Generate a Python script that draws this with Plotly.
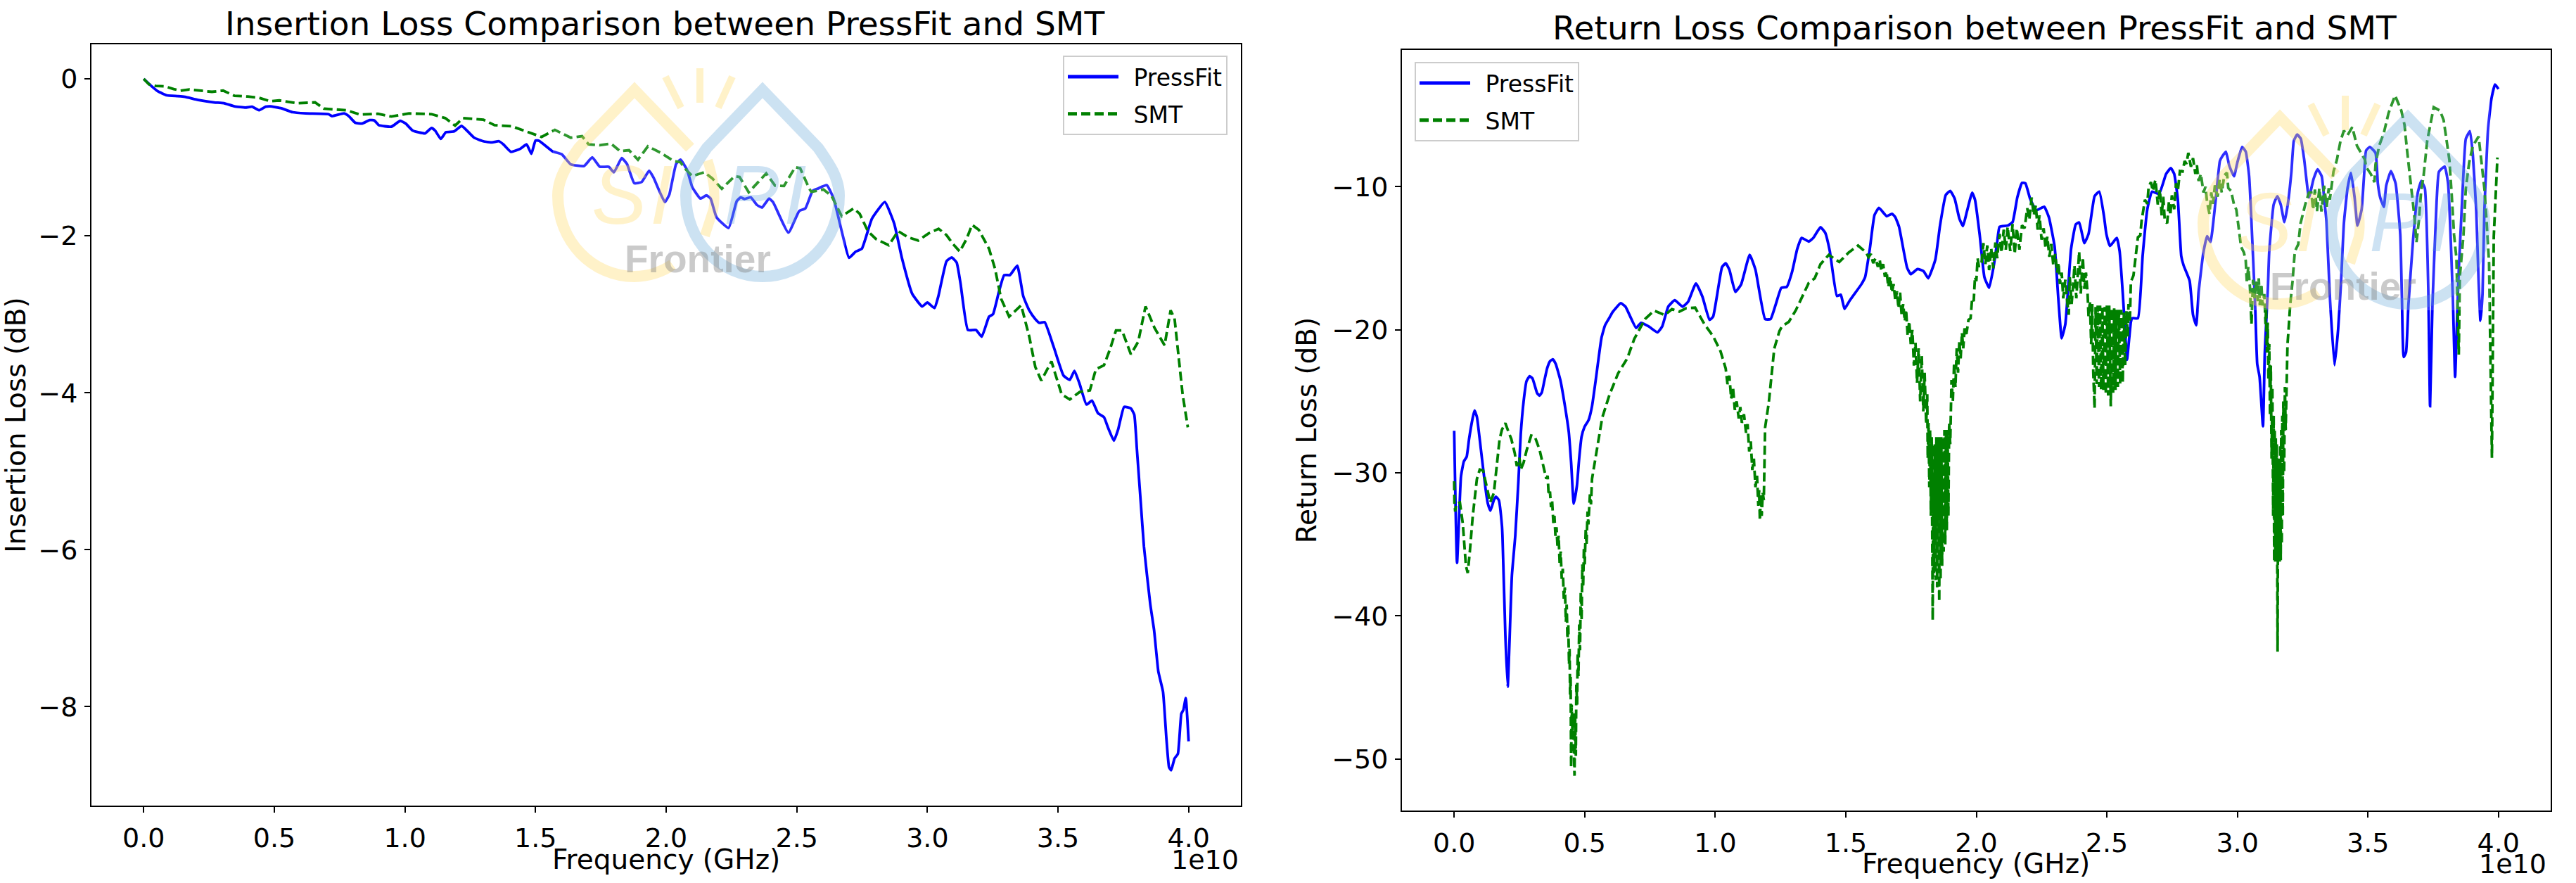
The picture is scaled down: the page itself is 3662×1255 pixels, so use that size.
import plotly.graph_objects as go

W, H = 3662, 1255

# ---------- data: (frequency in GHz, dB) ----------
il_pressfit = [(0,0),(.29,-.09),(.55,-.16),(.89,-.21),(1.32,-.22),(1.58,-.23),(2.09,-.27),(2.7,-.30),(3.07,-.31),(3.47,-.35),(3.9,-.365),(4.15,-.355),(4.41,-.40),(4.67,-.355),(4.84,-.35),(5.27,-.375),(5.7,-.425),(6.2,-.44),(7.07,-.45),(7.21,-.475),(7.67,-.44),(7.85,-.475),(8.1,-.56),(8.36,-.57),(8.65,-.525),(8.83,-.53),(9.0,-.59),(9.48,-.61),(9.82,-.535),(10.03,-.57),(10.3,-.66),(10.77,-.695),(11.02,-.625),(11.16,-.66),(11.37,-.765),(11.57,-.68),(11.88,-.67),(12.17,-.60),(12.48,-.695),(12.65,-.75),(13.0,-.795),(13.34,-.81),(13.6,-.795),(13.77,-.835),(14.06,-.93),(14.42,-.89),(14.66,-.835),(14.84,-.955),(15.0,-.785),(15.14,-.79),(15.66,-.925),(16.0,-.96),(16.35,-1.09),(16.86,-1.11),(17.17,-1.0),(17.46,-1.12),(17.8,-1.12),(18.0,-1.19),(18.3,-1.01),(18.5,-1.085),(18.78,-1.33),(19.06,-1.315),(19.35,-1.17),(19.52,-1.26),(19.95,-1.57),(20.12,-1.475),(20.38,-1.085),(20.55,-1.03),(20.8,-1.16),(21.0,-1.38),(21.31,-1.525),(21.54,-1.485),(21.7,-1.525),(21.93,-1.765),(22.39,-1.9),(22.7,-1.56),(22.85,-1.51),(23.0,-1.53),(23.24,-1.51),(23.47,-1.605),(23.67,-1.64),(23.94,-1.525),(24.09,-1.57),(24.68,-1.96),(25.09,-1.685),(25.33,-1.65),(25.6,-1.43),(25.79,-1.40),(26.15,-1.355),(26.41,-1.525),(26.72,-1.94),(27.0,-2.28),(27.26,-2.2),(27.49,-2.165),(27.88,-1.78),(28.37,-1.57),(28.73,-1.845),(29.03,-2.29),(29.42,-2.74),(29.8,-2.9),(30.0,-2.85),(30.27,-2.92),(30.42,-2.77),(30.73,-2.325),(30.93,-2.275),(31.12,-2.34),(31.27,-2.61),(31.55,-3.2),(31.86,-3.2),(32.08,-3.285),(32.36,-3.03),(32.51,-3.0),(32.74,-2.71),(32.94,-2.5),(33.16,-2.5),(33.44,-2.38),(33.67,-2.77),(33.9,-2.95),(34.13,-3.06),(34.29,-3.11),(34.49,-3.1),(34.83,-3.41),(35.21,-3.78),(35.45,-3.835),(35.63,-3.72),(35.83,-3.89),(36.09,-4.15),(36.3,-4.1),(36.53,-4.26),(36.76,-4.31),(36.91,-4.44),(37.14,-4.61),(37.3,-4.47),(37.53,-4.18),(37.79,-4.2),(37.92,-4.28),(38.02,-4.72),(38.17,-5.41),(38.29,-5.96),(38.53,-6.69),(38.68,-7.03),(38.84,-7.55),(39.02,-7.81),(39.15,-8.41),(39.25,-8.77),(39.33,-8.81),(39.46,-8.66),(39.59,-8.6),(39.72,-8.09),(39.8,-8.04),(39.89,-7.89),(40.0,-8.44)]

il_smt = [(0,0),(.2,-.07),(.46,-.09),(.81,-.095),(1.15,-.13),(1.41,-.15),(1.75,-.135),(2.09,-.145),(2.61,-.165),(3.04,-.15),(3.47,-.215),(3.98,-.225),(4.41,-.24),(4.84,-.285),(5.19,-.275),(5.87,-.31),(6.56,-.30),(6.9,-.38),(7.76,-.40),(8.28,-.455),(8.96,-.445),(9.48,-.48),(10.16,-.44),(11.02,-.45),(11.54,-.50),(11.92,-.595),(12.22,-.50),(13.0,-.52),(13.43,-.59),(14.1,-.605),(14.63,-.665),(15.23,-.74),(15.74,-.65),(16.35,-.75),(16.78,-.73),(17.03,-.835),(17.46,-.845),(17.89,-.825),(18.23,-.92),(18.58,-.91),(18.92,-1.03),(19.3,-.86),(19.78,-.94),(20.3,-1.05),(20.54,-1.06),(20.77,-1.16),(21.0,-1.24),(21.46,-1.19),(21.77,-1.27),(22.13,-1.4),(22.62,-1.24),(22.81,-1.25),(23.16,-1.445),(23.83,-1.205),(24.17,-1.36),(24.51,-1.365),(24.94,-1.125),(25.13,-1.14),(25.48,-1.4),(25.56,-1.44),(26.02,-1.41),(26.33,-1.49),(26.72,-1.75),(27.18,-1.65),(27.41,-1.72),(27.72,-1.94),(28.03,-2.04),(28.52,-2.12),(28.88,-1.94),(29.27,-2.02),(29.65,-2.06),(30.04,-1.97),(30.43,-1.91),(30.73,-1.99),(30.97,-2.1),(31.24,-2.2),(31.5,-2.04),(31.71,-1.86),(31.97,-1.925),(32.36,-2.165),(32.59,-2.42),(32.82,-2.8),(33.13,-3.03),(33.59,-2.885),(33.9,-3.285),(34.13,-3.67),(34.36,-3.845),(34.75,-3.6),(34.9,-3.765),(35.14,-4.02),(35.45,-4.085),(35.83,-3.99),(36.22,-3.97),(36.45,-3.7),(36.76,-3.65),(36.99,-3.445),(37.22,-3.205),(37.45,-3.205),(37.79,-3.51),(38.07,-3.35),(38.35,-2.9),(38.69,-3.17),(39.08,-3.395),(39.31,-2.95),(39.46,-3.05),(39.62,-3.54),(39.77,-4.02),(39.97,-4.44)]

rl_pressfit = [(0,-27.06),(.11,-36.3),(.26,-30.26),(.37,-29.2),(.48,-28.87),(.57,-27.64),(.71,-26.16),(.78,-25.64),(.87,-26.08),(1.02,-28.3),(1.2,-31.08),(1.29,-32.15),(1.39,-32.64),(1.52,-31.9),(1.6,-31.66),(1.71,-31.9),(1.83,-33.7),(1.85,-34.4),(1.96,-41.3),(2.05,-44.95),(2.21,-37.2),(2.34,-34.4),(2.46,-30.6),(2.55,-27.3),(2.66,-25.0),(2.77,-23.6),(2.89,-23.24),(3.0,-23.4),(3.18,-24.44),(3.27,-24.6),(3.36,-24.36),(3.45,-23.6),(3.56,-22.7),(3.67,-22.2),(3.78,-22.06),(3.89,-22.39),(4.07,-23.54),(4.23,-25.18),(4.39,-27.15),(4.48,-29.28),(4.58,-32.15),(4.7,-30.92),(4.79,-28.95),(4.88,-27.47),(4.99,-26.8),(5.15,-26.3),(5.28,-25.34),(5.42,-23.54),(5.64,-20.59),(5.78,-19.68),(5.96,-19.11),(6.08,-18.73),(6.38,-18.14),(6.56,-18.38),(6.97,-19.87),(7.15,-19.52),(7.45,-19.76),(7.79,-20.18),(7.97,-19.76),(8.2,-18.38),(8.45,-17.93),(8.75,-18.38),(8.96,-18.04),(9.26,-16.76),(9.51,-17.69),(9.78,-19.31),(9.92,-19.07),(10.26,-15.62),(10.4,-15.35),(10.54,-15.8),(10.77,-17.35),(10.99,-16.83),(11.32,-14.76),(11.54,-15.8),(11.91,-19.25),(12.12,-19.25),(12.32,-18.21),(12.53,-17.07),(12.74,-17.0),(12.94,-15.97),(13.14,-14.35),(13.31,-13.57),(13.58,-13.83),(13.76,-13.57),(14.03,-12.83),(14.21,-13.21),(14.39,-14.52),(14.66,-17.63),(14.81,-17.55),(14.95,-18.54),(15.15,-17.96),(15.6,-16.81),(15.74,-16.32),(15.92,-14.35),(16.1,-11.98),(16.27,-11.48),(16.57,-12.06),(16.77,-11.89),(16.9,-12.14),(17.04,-12.8),(17.35,-15.67),(17.49,-16.11),(17.75,-15.75),(17.98,-15.91),(18.16,-16.4),(18.43,-15.09),(18.61,-12.71),(18.83,-10.58),(19.0,-10.29),(19.17,-10.83),(19.35,-12.22),(19.49,-12.75),(19.64,-11.73),(19.84,-10.42),(19.95,-10.91),(20.13,-13.37),(20.31,-16.32),(20.49,-17.06),(20.67,-15.5),(20.8,-13.86),(20.89,-12.8),(21.21,-12.71),(21.39,-12.47),(21.57,-10.75),(21.75,-9.73),(21.88,-9.76),(22.06,-10.83),(22.29,-11.65),(22.6,-11.4),(22.78,-12.14),(23.0,-14.19),(23.14,-17.8),(23.27,-20.59),(23.41,-19.6),(23.63,-14.35),(23.81,-12.63),(23.94,-12.5),(24.14,-13.94),(24.3,-13.29),(24.53,-10.66),(24.71,-10.34),(24.89,-12.06),(24.98,-13.29),(25.12,-14.14),(25.38,-13.58),(25.49,-14.52),(25.61,-17.47),(25.7,-20.1),(25.77,-22.1),(25.92,-19.46),(25.97,-19.19),(26.19,-19.19),(26.37,-14.85),(26.55,-11.57),(26.73,-10.34),(27.0,-10.5),(27.27,-9.1),(27.45,-8.7),(27.58,-9.1),(27.72,-10.91),(27.85,-14.85),(27.94,-15.5),(28.17,-16.57),(28.3,-18.95),(28.42,-19.68),(28.52,-17.3),(28.69,-14.68),(28.84,-13.45),(28.97,-13.86),(29.15,-11.24),(29.33,-8.2),(29.42,-7.88),(29.56,-7.55),(29.69,-8.53),(29.87,-9.27),(30.0,-8.29),(30.18,-7.22),(30.32,-7.55),(30.45,-9.27),(30.59,-14.52),(30.68,-18.29),(30.76,-22.39),(30.85,-23.29),(30.98,-26.74),(31.05,-21.57),(31.17,-17.0),(31.22,-14.52),(31.39,-11.24),(31.53,-10.66),(31.66,-11.24),(31.8,-12.47),(31.93,-11.24),(32.07,-8.94),(32.16,-6.81),(32.29,-6.35),(32.43,-6.65),(32.56,-8.12),(32.74,-10.75),(32.92,-9.44),(33.07,-8.78),(33.23,-9.27),(33.32,-10.75),(33.41,-12.39),(33.55,-17.96),(33.72,-22.47),(33.86,-19.93),(33.97,-16.65),(34.08,-12.55),(34.22,-10.1),(34.35,-9.03),(34.49,-10.75),(34.6,-12.72),(34.76,-11.57),(34.85,-9.27),(34.93,-7.47),(35.07,-7.22),(35.29,-7.63),(35.38,-9.77),(35.47,-10.75),(35.61,-11.41),(35.7,-9.93),(35.88,-8.91),(36.06,-9.77),(36.24,-13.37),(36.3,-17.64),(36.37,-21.9),(36.46,-21.57),(36.55,-18.29),(36.73,-13.7),(36.91,-10.42),(37.04,-9.6),(37.18,-10.1),(37.31,-17.0),(37.38,-25.34),(37.47,-18.29),(37.63,-11.08),(37.72,-8.95),(37.94,-8.58),(38.07,-9.77),(38.25,-17.6),(38.34,-23.29),(38.43,-18.29),(38.48,-15.83),(38.61,-10.9),(38.75,-6.65),(38.91,-6.12),(39.02,-7.8),(39.15,-11.73),(39.24,-16.65),(39.31,-19.36),(39.39,-17.47),(39.46,-11.73),(39.6,-5.99),(39.73,-3.86),(39.87,-2.85),(40.0,-3.17)]

rl_smt = [(0,-30.59),(.01,-32.07),(.04,-32.7),(.08,-32.15),(.22,-32.07),(.33,-33.54),(.45,-36.5),(.52,-37.0),(.6,-35.5),(.71,-33.05),(.87,-30.43),(.98,-29.77),(1.11,-29.85),(1.25,-31.08),(1.38,-32.07),(1.52,-31.41),(1.65,-29.28),(1.74,-27.64),(1.83,-26.98),(1.96,-26.52),(2.05,-26.98),(2.19,-27.64),(2.32,-28.62),(2.4,-29.52),(2.5,-28.95),(2.55,-29.77),(2.66,-29.28),(2.77,-28.46),(2.95,-27.39),(3.09,-27.47),(3.27,-28.38),(3.4,-29.44),
(3.53,-30.42),(3.58,-30.2),(3.62,-31.57),(3.67,-31.3),(3.71,-32.4),(3.75,-31.9),(3.8,-33.5),(3.84,-33),(3.88,-34.4),(3.92,-33.8),(3.96,-35.2),(4.0,-34.4),(4.04,-36.3),(4.08,-35.5),(4.12,-37.4),(4.16,-36.7),(4.2,-38.8),(4.24,-38),(4.28,-40.4),(4.31,-39.2),(4.34,-41.6),(4.37,-40.6),(4.4,-43.4),(4.42,-42.3),(4.44,-45.5),(4.46,-44.2),(4.48,-50.59),(4.5,-46.2),(4.53,-48),(4.55,-46.8),(4.58,-48.8),(4.61,-51.17),(4.63,-46.8),(4.66,-49.77),(4.68,-44.8),(4.71,-46.2),(4.73,-42.6),(4.76,-44.2),(4.79,-40.6),(4.82,-42.4),(4.85,-38.3),(4.88,-40.3),(4.91,-36.4),(4.94,-38),(4.97,-35.2),(5.0,-36.4),(5.04,-33.9),(5.07,-35),(5.11,-32.7),(5.14,-33.6),(5.2,-31.5),(5.24,-32.2),(5.28,-30.42),
(5.39,-29.25),(5.67,-26.15),(5.94,-24.59),(6.28,-23.04),(6.63,-22.0),(6.9,-20.63),(7.31,-19.25),(7.66,-18.66),(8.07,-18.97),(8.34,-18.56),(8.62,-18.73),(8.89,-18.49),(9.23,-18.45),(9.58,-19.59),(9.92,-20.45),(10.2,-21.49),
(10.4,-22.7),(10.47,-23.8),(10.54,-23.2),(10.61,-24.8),(10.68,-24),(10.75,-25.6),(10.82,-25),(10.9,-26.2),(10.96,-25.4),(11.02,-26.5),(11.1,-25.9),(11.18,-27.2),(11.24,-26.6),(11.3,-28.5),(11.36,-27.8),(11.42,-29.8),(11.48,-29),(11.54,-31),(11.6,-30.2),(11.65,-32.3),(11.68,-31.2),(11.71,-33.32),(11.75,-31.5),(11.78,-33),(11.82,-31.4),(11.86,-31.9),(11.91,-26.84),
(12.05,-25.11),(12.26,-21.32),(12.46,-20.09),(12.55,-19.77),(12.82,-19.44),(13.09,-18.62),(13.36,-17.63),(13.58,-16.73),(13.81,-16.4),(14.03,-15.42),(14.35,-14.76),(14.75,-15.26),(15.11,-14.6),(15.47,-14.11),(15.78,-14.6),(15.87,-14.93),(15.96,-14.7),(16.05,-15.34),(16.14,-15),(16.23,-15.6),(16.3,-15.1),(16.36,-15.9),(16.43,-15.4),(16.5,-16.3),(16.56,-15.9),(16.63,-17),(16.7,-16.3),(16.77,-17.4),(16.83,-16.8),(16.9,-18),(16.96,-17.3),(17.02,-18.5),(17.08,-17.4),(17.14,-19),(17.2,-18.2),(17.26,-19.4),(17.31,-18.6),(17.37,-20.4),(17.43,-19.4),(17.49,-21),(17.55,-20),(17.61,-22.5),(17.67,-20.9),(17.73,-23.7),(17.79,-21.3),(17.85,-25),(17.91,-21.8),(17.97,-25.7),(18.02,-23),(18.08,-26.6),(18.12,-24.5),
(18.14,-29),(18.17,-26.5),(18.2,-31),(18.23,-27),(18.26,-33),(18.29,-27.5),(18.31,-36),(18.33,-40.3),(18.35,-28),(18.38,-37),(18.41,-28),(18.44,-37.5),(18.47,-27.5),(18.5,-38),(18.53,-27.5),(18.56,-38.5),(18.58,-39),(18.6,-27.5),(18.63,-37.5),(18.66,-27.5),(18.69,-36.5),(18.72,-27.5),(18.75,-35.5),(18.78,-27),(18.81,-35),(18.84,-27),(18.87,-34),(18.9,-27),(18.93,-33),(18.96,-26.5),(19.0,-28),
(19.05,-23.5),(19.1,-25),(19.15,-22.3),(19.2,-24),(19.25,-21.3),(19.3,-23),(19.35,-20.8),(19.4,-22),(19.45,-20.2),(19.5,-21.3),(19.55,-19.9),(19.62,-20.3),(19.7,-19.3),(19.78,-19.2),(19.84,-17.8),(19.9,-18),(19.95,-16.3),(20.0,-16.6),(20.05,-15),(20.1,-15.6),(20.2,-15.3),(20.27,-13.94),(20.35,-15.4),(20.42,-14.1),(20.49,-15.83),(20.57,-14.3),(20.65,-15.7),(20.73,-13.9),(20.8,-15),(20.89,-13.3),(20.97,-14.6),(21.05,-13),(21.13,-14.4),(21.2,-12.8),(21.3,-14.5),(21.39,-12.6),(21.47,-14.7),(21.55,-12.9),(21.65,-14.4),(21.75,-12.7),(21.85,-12.9),(21.95,-11.5),(22.03,-12.3),(22.12,-10.75),(22.2,-12),(22.28,-11.3),(22.35,-13),(22.42,-12),(22.5,-13.7),(22.58,-12.9),(22.65,-14.3),(22.72,-13.5),(22.8,-14.9),(22.87,-14),(22.95,-15.5),(23.02,-14.7),(23.1,-16),(23.15,-15.3),(23.2,-16.8),(23.27,-16),(23.33,-17.8),(23.41,-16.5),(23.48,-18),(23.54,-18.95),(23.58,-16.32),(23.65,-18.2),(23.72,-16.6),(23.76,-15.5),(23.83,-17.8),(23.9,-15.4),(23.94,-14.52),(24.0,-17.47),(24.08,-14.93),(24.14,-17.14),(24.2,-16),(24.26,-17.4),(24.3,-19.1),
(24.35,-18),(24.4,-21),(24.44,-18.2),(24.48,-23),(24.53,-25.5),(24.57,-18.4),(24.61,-23.8),(24.65,-18.3),(24.7,-24),(24.74,-18.3),(24.78,-24.2),(24.83,-18.4),(24.87,-24.2),(24.92,-18.4),(24.96,-24.5),(25.0,-18.3),(25.05,-24.6),(25.09,-18.3),(25.15,-25.35),(25.19,-18.5),(25.24,-24.4),(25.28,-18.5),(25.33,-24.2),(25.37,-18.6),(25.42,-24),(25.46,-18.6),(25.51,-23.8),(25.55,-18.6),(25.61,-23.7),(25.65,-18.8),(25.7,-22.5),(25.75,-18.7),(25.8,-20.5),(25.83,-18.2),
(25.88,-19.5),(25.92,-16.65),(26.02,-16.2),(26.1,-14.85),(26.19,-13.53),(26.28,-13.4),(26.33,-12.39),(26.46,-10.91),(26.55,-11.2),(26.6,-10),(26.69,-9.68),(26.76,-10.3),(26.86,-9.52),(26.91,-10.42),(26.95,-11.24),(27.03,-10.2),(27.1,-12),(27.16,-10.7),(27.22,-12.39),(27.31,-12.55),(27.38,-11),(27.43,-12),(27.49,-10.6),(27.58,-11.57),(27.65,-9.76),(27.72,-10.26),(27.8,-8.9),(27.9,-8.94),(27.98,-8.2),(28.05,-8.4),(28.12,-7.63),(28.22,-8.6),(28.3,-8),(28.39,-9.1),(28.45,-8.5),(28.52,-9.6),(28.6,-9.1),(28.7,-10.4),(28.78,-10),(28.84,-11.1),(28.93,-11.89),(29.0,-10.4),(29.06,-11.2),(29.14,-9.9),(29.24,-10.7),(29.32,-9.5),(29.4,-10.4),(29.5,-9.2),(29.6,-9.02),(29.65,-10.09),(29.76,-10.3),(29.87,-11.24),(29.96,-11.6),(30.05,-12.88),(30.14,-14.19),(30.25,-14.6),(30.32,-15.17),(30.36,-16.6),(30.42,-15.6),(30.48,-17),(30.54,-19.6),(30.6,-16.5),(30.66,-17.8),(30.72,-16.6),(30.78,-18),(30.82,-16.4),(30.86,-18.29),(30.92,-16.8),(30.96,-18.3),(31.03,-17.5),
(31.08,-19.6),(31.1,-18.4),(31.13,-21.6),(31.16,-19.5),(31.19,-23.5),(31.22,-21),(31.25,-26),(31.28,-22.5),(31.31,-29),(31.34,-24),(31.37,-33),(31.39,-26),(31.41,-36.2),(31.43,-27),(31.45,-36.2),(31.47,-27.5),(31.49,-36.2),(31.51,-28),(31.54,-42.5),(31.56,-29),(31.58,-36.2),(31.6,-29),(31.62,-36.2),(31.64,-28),(31.66,-36.1),(31.68,-27),(31.7,-35),(31.72,-26),(31.74,-33),(31.76,-25),(31.79,-30),(31.82,-24),(31.85,-27),(31.89,-23.5),(31.92,-21),(31.96,-20),
(32.02,-18.3),(32.11,-16.65),(32.2,-14.52),(32.33,-14.03),(32.42,-12.55),(32.6,-11.24),(32.74,-10.42),(32.83,-10.4),(32.9,-11.6),(32.97,-10.2),(33.05,-11.7),(33.14,-10.1),(33.22,-11.73),(33.32,-9.93),(33.42,-11.4),(33.5,-10.1),(33.54,-10.9),(33.68,-8.95),(33.81,-8.13),(33.95,-6.8),(34.08,-6.08),(34.22,-6.4),(34.4,-5.83),(34.58,-7.14),(34.76,-7.72),(34.89,-8.13),(34.93,-8.62),(35.11,-9.11),(35.25,-9.68),(35.29,-8.45),(35.43,-7.14),(35.61,-6.24),(35.79,-4.85),(36.04,-3.62),(36.28,-4.68),(36.4,-5.67),(36.5,-7.47),(36.59,-8.95),(36.68,-10.42),(36.77,-11.9),(36.86,-13.87),(36.95,-12.39),(37.04,-10.26),(37.13,-9.27),(37.27,-6.81),(37.4,-5.5),(37.52,-4.44),(37.76,-4.68),(37.9,-5.34),(38.03,-6.98),(38.12,-8.13),(38.21,-10.59),(38.3,-13.37),(38.39,-15.0),(38.48,-21.73),(38.52,-16.3),(38.66,-13.37),(38.75,-10.1),(38.88,-8.29),(39.02,-7.14),(39.24,-6.49),(39.33,-7.96),(39.46,-10.1),(39.55,-12.55),(39.64,-15.34),(39.75,-28.95),(39.82,-13.5),(39.96,-7.96)]

x_ticks_ghz = [0, 5, 10, 15, 20, 25, 30, 35, 40]
x_tick_labels = ["0.0", "0.5", "1.0", "1.5", "2.0", "2.5", "3.0", "3.5", "4.0"]
il_y_ticks = [0, -2, -4, -6, -8]
rl_y_ticks = [-10, -20, -30, -40, -50]

FONT = "DejaVu Sans"
TICK, LABEL, TITLE, LEG = 38, 39, 47, 33
BLUE, GREEN = "#0000ff", "#008000"
LW = 3.8
DASH = "13px,6px"

def hz(points):
    return [p[0] * 1e9 for p in points]
def db(points):
    return [p[1] for p in points]
def X(px):
    return px / W
def Y(py):
    return 1 - py / H

PF, SMT = "\u2002PressFit", "\u2002SMT"
fig = go.Figure()
fig.add_trace(go.Scatter(x=hz(il_pressfit), y=db(il_pressfit), name=PF, mode="lines", legendgroup="a1",
                         line=dict(color=BLUE, width=LW, shape="spline", smoothing=0.4),
                         xaxis="x", yaxis="y", legend="legend"))
fig.add_trace(go.Scatter(x=hz(il_smt), y=db(il_smt), name=SMT, mode="lines", legendgroup="a2",
                         line=dict(color=GREEN, width=LW, dash=DASH),
                         xaxis="x", yaxis="y", legend="legend"))
fig.add_trace(go.Scatter(x=hz(rl_pressfit), y=db(rl_pressfit), name=PF, mode="lines", legendgroup="b1",
                         line=dict(color=BLUE, width=LW, shape="spline", smoothing=0.4),
                         xaxis="x2", yaxis="y2", legend="legend2"))
fig.add_trace(go.Scatter(x=hz(rl_smt), y=db(rl_smt), name=SMT, mode="lines", legendgroup="b2",
                         line=dict(color=GREEN, width=LW, dash=DASH),
                         xaxis="x2", yaxis="y2", legend="legend2"))

def xaxis(domain, anchor):
    return dict(domain=domain, anchor=anchor, range=[-2e9, 42e9],
                tickmode="array", tickvals=[v * 1e9 for v in x_ticks_ghz], ticktext=x_tick_labels,
                ticks="outside", ticklen=8, tickwidth=2, tickcolor="black", ticklabelstandoff=3,
                tickfont=dict(family=FONT, size=TICK, color="black"),
                showline=True, linecolor="black", linewidth=2, mirror=True,
                showgrid=False, zeroline=False)

def yaxis(domain, anchor, rng, ticks, text, standoff):
    return dict(domain=domain, anchor=anchor, range=rng,
                tickmode="array", tickvals=ticks,
                ticks="outside", ticklen=8, tickwidth=2, tickcolor="black", ticklabelstandoff=2,
                tickfont=dict(family=FONT, size=TICK, color="black"),
                showline=True, linecolor="black", linewidth=2, mirror=True,
                showgrid=False, zeroline=False,
                title=dict(text=text, font=dict(family=FONT, size=LABEL, color="black"), standoff=standoff))

# watermark -------------------------------------------------------------
def to_path(pts):
    s = ""
    for c, ps in pts:
        s += c + " ".join(f"{X(a):.5f},{Y(b):.5f}" for a, b in ps) + " "
    return s

def drop_path(cx, ay):
    return to_path([
        ("M", [(cx, ay)]), ("L", [(cx + 79, ay + 82)]),
        ("C", [(cx + 95, ay + 105), (cx + 109, ay + 125), (cx + 109, ay + 150)]),
        ("C", [(cx + 109, ay + 215), (cx + 60, ay + 265), (cx, ay + 265)]),
        ("C", [(cx - 60, ay + 265), (cx - 109, ay + 215), (cx - 109, ay + 150)]),
        ("C", [(cx - 109, ay + 125), (cx - 95, ay + 105), (cx - 79, ay + 82)]),
    ]) + "Z"

def yellow_path(cx, ay):
    return to_path([
        ("M", [(cx + 79, ay + 82)]), ("L", [(cx, ay)]), ("L", [(cx - 79, ay + 82)]),
        ("C", [(cx - 95, ay + 105), (cx - 109, ay + 125), (cx - 109, ay + 150)]),
        ("C", [(cx - 109, ay + 215), (cx - 60, ay + 265), (cx, ay + 265)]),
        ("C", [(cx + 20, ay + 265), (cx + 40, ay + 258), (cx + 54, ay + 248)]),
    ])

def arc_path(cx, ay):
    return to_path([("M", [(cx + 104, ay + 100)]),
                    ("C", [(cx + 112, ay + 125), (cx + 116, ay + 150), (cx + 112, ay + 170)]),
                    ("L", [(cx + 100, ay + 207)])])

YEL = "rgb(255,215,90)"
BLU = "rgb(90,160,215)"
shapes, notes = [], []
for dx, dy in [(0, 0), (2339, 39)]:
    cx_y, cx_b, ay = 902 + dx, 1084 + dx, 128 + dy
    shapes.append(dict(type="rect", xref="paper", yref="paper", x0=X(786 + dx), x1=X(1201 + dx),
                       y0=Y(97 + dy), y1=Y(402 + dy), fillcolor="white", opacity=0.18, line_width=0, layer="above"))
    shapes.append(dict(type="path", xref="paper", yref="paper", path=yellow_path(cx_y, ay),
                       line=dict(color=YEL, width=16), opacity=0.32, layer="above"))
    shapes.append(dict(type="path", xref="paper", yref="paper", path=arc_path(cx_y, ay),
                       line=dict(color=YEL, width=14), opacity=0.32, layer="above"))
    for x0, y0, x1, y1 in [(995, 97, 995, 146), (946, 109, 968, 153), (1041, 109, 1021, 153)]:
        shapes.append(dict(type="line", xref="paper", yref="paper", x0=X(x0 + dx), y0=Y(y0 + dy),
                           x1=X(x1 + dx), y1=Y(y1 + dy), line=dict(color=YEL, width=10),
                           opacity=0.32, layer="above"))
    shapes.append(dict(type="path", xref="paper", yref="paper", path=drop_path(cx_b, ay),
                       line=dict(color=BLU, width=16), opacity=0.3, layer="above"))
    for txt, xc, col in [("S", 880, "rgba(255,215,90,0.32)"), ("I", 940, "rgba(255,215,90,0.32)"),
                         ("P", 1068, "rgba(90,160,215,0.3)"), ("I", 1130, "rgba(90,160,215,0.3)")]:
        notes.append(dict(text=f"<i>{txt}</i>", xref="paper", yref="paper", x=X(xc + dx), y=Y(277 + dy),
                          xanchor="center", yanchor="middle", showarrow=False,
                          font=dict(family="Liberation Sans", size=118, color=col)))
    notes.append(dict(text="<b>Frontier</b>", xref="paper", yref="paper", x=X(992 + dx), y=Y(368 + dy),
                      xanchor="center", yanchor="middle", showarrow=False,
                      font=dict(family="Liberation Sans", size=55, color="rgba(128,128,128,0.42)")))

# chart titles, x axis titles and offset labels -------------------------------
for txt, xc, yc, size in [("Insertion Loss Comparison between PressFit and SMT", 945, 33, TITLE),
                          ("Return Loss Comparison between PressFit and SMT", 2807, 40, TITLE),
                          ("Frequency (GHz)", 947, 1221, LABEL),
                          ("Frequency (GHz)", 2809, 1227, LABEL)]:
    notes.append(dict(text=txt, xref="paper", yref="paper", x=X(xc), y=Y(yc), xanchor="center", yanchor="middle",
                      showarrow=False, font=dict(family=FONT, size=size, color="black")))
for xr, yc in [(1763, 1222), (3622, 1228)]:
    notes.append(dict(text="1e10", xref="paper", yref="paper", x=X(xr), y=Y(yc), xanchor="right", yanchor="middle",
                      showarrow=False, font=dict(family=FONT, size=TICK, color="black")))

legend_style = dict(bgcolor="rgba(255,255,255,0.8)", bordercolor="#cccccc", borderwidth=2,
                    font=dict(family=FONT, size=LEG, color="black"), itemwidth=72,
                    entrywidth=160, entrywidthmode="pixels",
                    tracegroupgap=7, itemsizing="constant", groupclick="toggleitem")

fig.update_layout(
    width=W, height=H, autosize=False, showlegend=True,
    margin=dict(l=0, r=0, t=0, b=0), paper_bgcolor="white", plot_bgcolor="white",
    xaxis=xaxis([X(130), X(1764)], "y"),
    yaxis=yaxis([Y(1145), Y(63)], "x", [-9.26, 0.44], il_y_ticks, "Insertion Loss (dB)", 10),
    xaxis2=xaxis([X(1993), X(3626)], "y2"),
    yaxis2=yaxis([Y(1152), Y(71)], "x2", [-53.6, -0.44], rl_y_ticks, "Return Loss (dB)", 10),
    legend=dict(x=X(1745), y=Y(79), xanchor="right", yanchor="top", **legend_style),
    legend2=dict(x=X(2011), y=Y(88), xanchor="left", yanchor="top", **legend_style),
    shapes=shapes, annotations=notes,
)
fig.write_html("out.html", config=dict(displayModeBar=False), post_script="document.body.style.margin='0';")
